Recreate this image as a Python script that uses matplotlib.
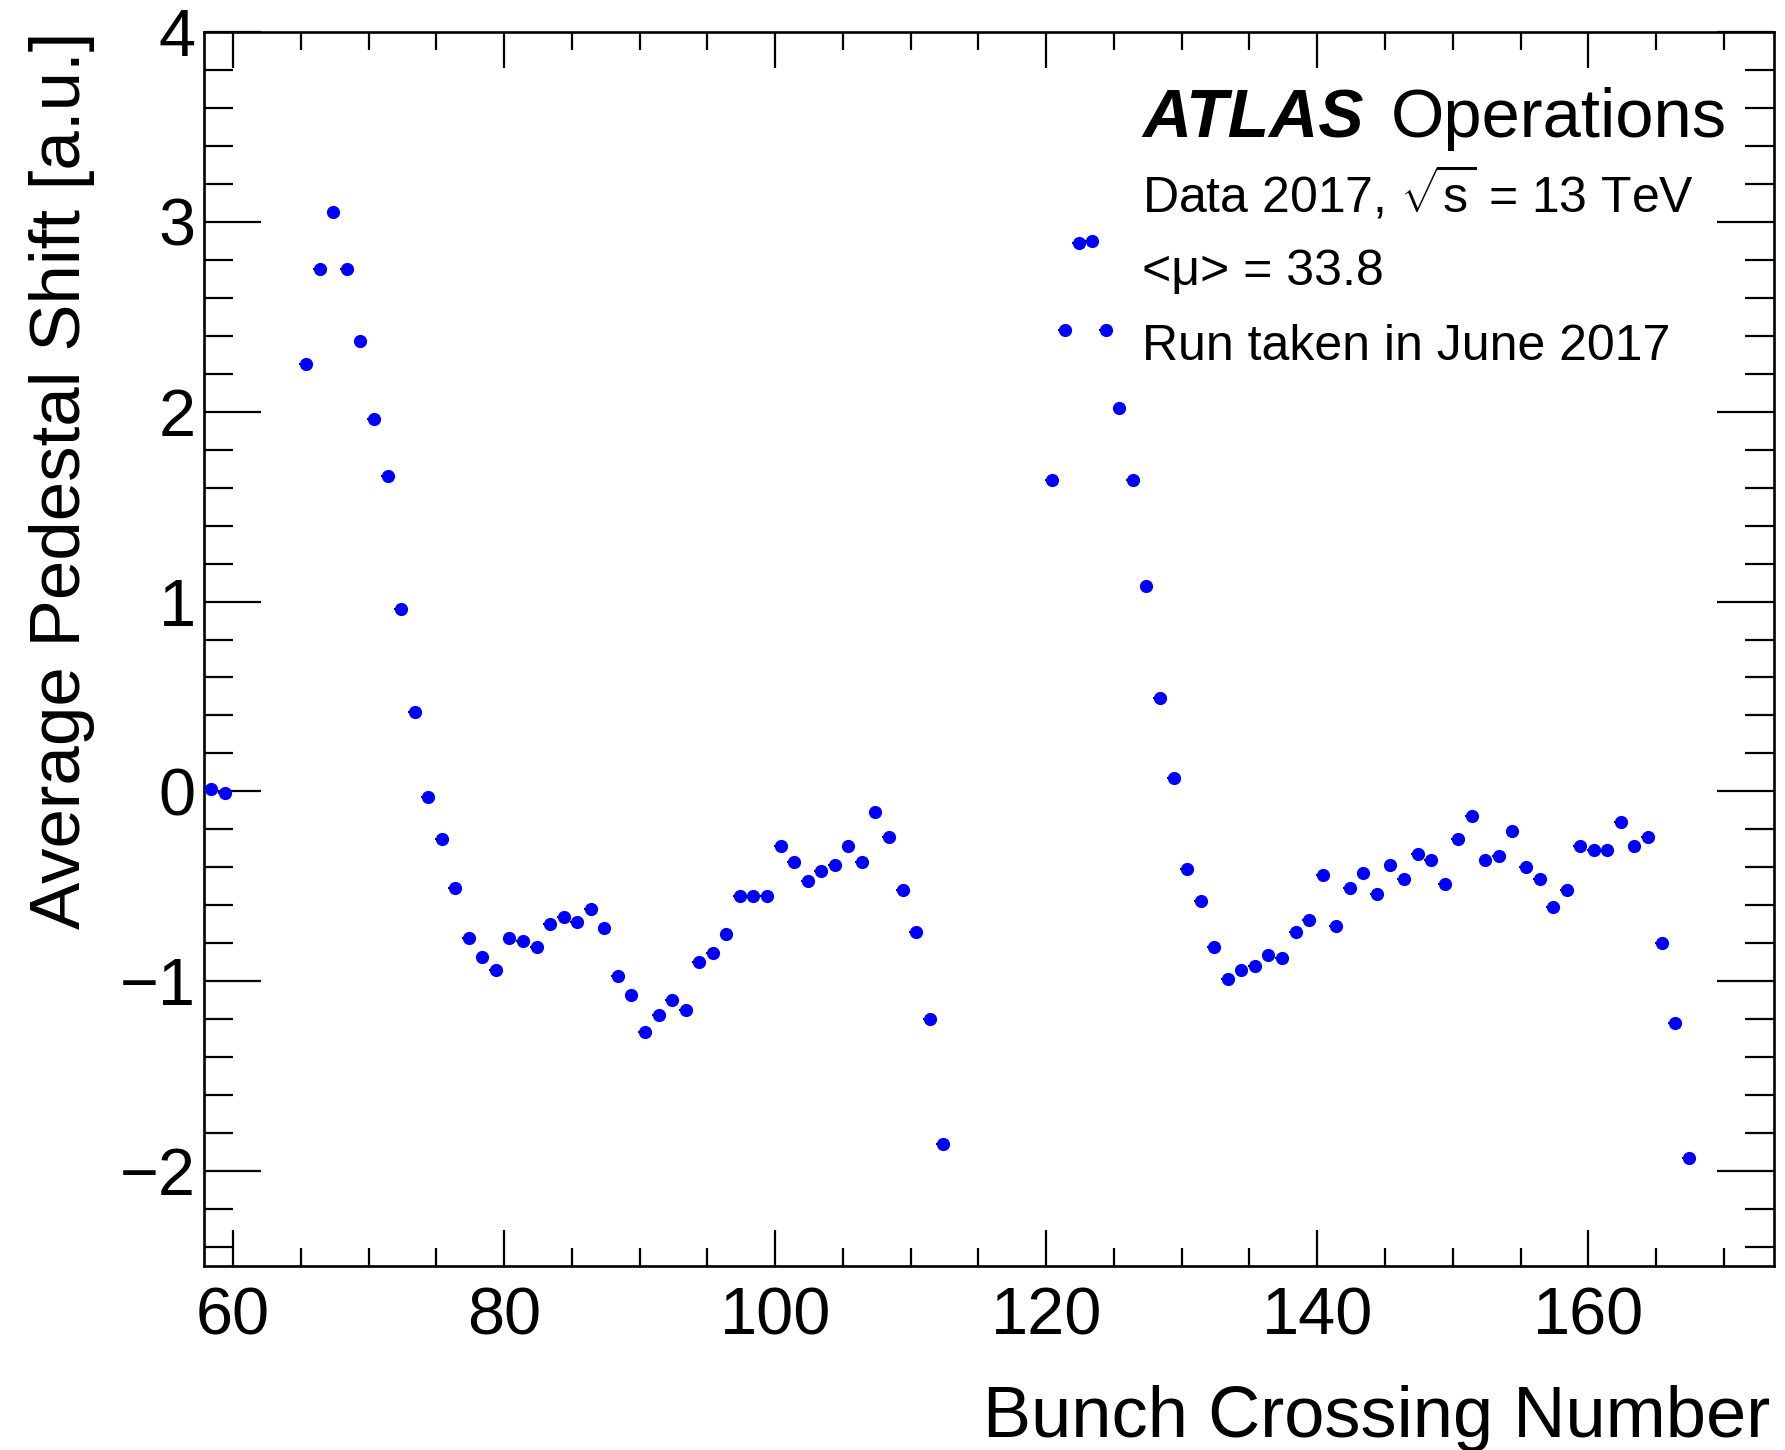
import numpy as np
import matplotlib
matplotlib.use("Agg")
import matplotlib.pyplot as plt
from matplotlib.ticker import MultipleLocator

# Bunch crossing IDs (histogram bins, plotted near bin centre)
bcid_train1 = [58, 59]
shift_train1 = [0.01, -0.01]

bcid_train2 = list(range(65, 113))
shift_train2 = [2.25, 2.75, 3.05, 2.75, 2.37, 1.96, 1.66, 0.96, 0.42, -0.03,
                -0.25, -0.51, -0.77, -0.87, -0.94, -0.77, -0.79, -0.82, -0.70, -0.66,
                -0.69, -0.62, -0.72, -0.97, -1.07, -1.27, -1.18, -1.10, -1.15, -0.90,
                -0.85, -0.75, -0.55, -0.55, -0.55, -0.29, -0.37, -0.47, -0.42, -0.39,
                -0.29, -0.37, -0.11, -0.24, -0.52, -0.74, -1.20, -1.86]

bcid_train3 = list(range(120, 168))
shift_train3 = [1.64, 2.43, 2.89, 2.90, 2.43, 2.02, 1.64, 1.08, 0.49, 0.07,
                -0.41, -0.58, -0.82, -0.99, -0.94, -0.92, -0.86, -0.88, -0.74, -0.68,
                -0.44, -0.71, -0.51, -0.43, -0.54, -0.39, -0.46, -0.33, -0.36, -0.49,
                -0.25, -0.13, -0.36, -0.34, -0.21, -0.40, -0.46, -0.61, -0.52, -0.29,
                -0.31, -0.31, -0.16, -0.29, -0.24, -0.80, -1.22, -1.93]

bcid = np.array(bcid_train1 + bcid_train2 + bcid_train3)
shift = np.array(shift_train1 + shift_train2 + shift_train3)

plt.rcParams['font.family'] = ['Liberation Sans', 'DejaVu Sans']
plt.rcParams['mathtext.fontset'] = 'custom'
plt.rcParams['mathtext.rm'] = 'Liberation Sans'
plt.rcParams['mathtext.it'] = 'Liberation Sans:italic'

W, H = 1785, 1450
fig = plt.figure(figsize=(W / 100, H / 100), dpi=100)
ax = fig.add_axes([204 / W, 1 - 1266 / H, (1774 - 204) / W, (1266 - 32) / H])

ax.errorbar(bcid + 0.4, shift, xerr=0.5, fmt='o', color='#0000ff', ecolor='black',
            elinewidth=1.5, capsize=0, markersize=9.5, markeredgewidth=0, zorder=3)

ax.set_xlim(57.86, 173.7)
ax.set_ylim(-2.5, 4)

ax.xaxis.set_major_locator(MultipleLocator(20))
ax.xaxis.set_minor_locator(MultipleLocator(5))
ax.yaxis.set_major_locator(MultipleLocator(1))
ax.yaxis.set_minor_locator(MultipleLocator(0.2))

for s in ax.spines.values():
    s.set_linewidth(1.9)

ax.tick_params(axis='both', which='both', direction='in', top=True, right=True, width=1.6)
ax.tick_params(axis='x', which='major', length=26, labelsize=48, pad=15)
ax.tick_params(axis='x', which='minor', length=13)
ax.tick_params(axis='y', which='major', length=41, labelsize=48, pad=6)
ax.tick_params(axis='y', which='minor', length=21)

ax.set_xlabel('Bunch Crossing Number', fontsize=52)
ax.xaxis.set_label_coords(0.9975, -0.1386)
ax.xaxis.label.set_ha('right')
ax.xaxis.label.set_va('baseline')

ax.set_ylabel('Average Pedestal Shift [a.u.]', fontsize=51)
ax.yaxis.set_label_coords((80 - 204) / 1570, 1.0)
ax.yaxis.label.set_rotation_mode('anchor')
ax.yaxis.label.set_ha('right')
ax.yaxis.label.set_va('baseline')

# ATLAS label block
fig.text(1142 / W, 1 - 137 / H, 'ATLAS', fontsize=49, fontweight='bold', fontstyle='italic',
         va='baseline', ha='left')
fig.text(1391 / W, 1 - 137 / H, 'Operations', fontsize=49.5, va='baseline', ha='left')
fig.text(1142 / W, 1 - 211 / H, r'Data 2017, $\sqrt{\mathrm{s}}$ = 13 TeV', fontsize=36,
         va='baseline', ha='left')
fig.text(1142 / W, 1 - 285 / H, '<\u03bc> = 33.8', fontsize=36, va='baseline', ha='left')
fig.text(1142 / W, 1 - 360 / H, 'Run taken in June 2017', fontsize=36, va='baseline', ha='left')

fig.savefig('out.png', dpi=100)
